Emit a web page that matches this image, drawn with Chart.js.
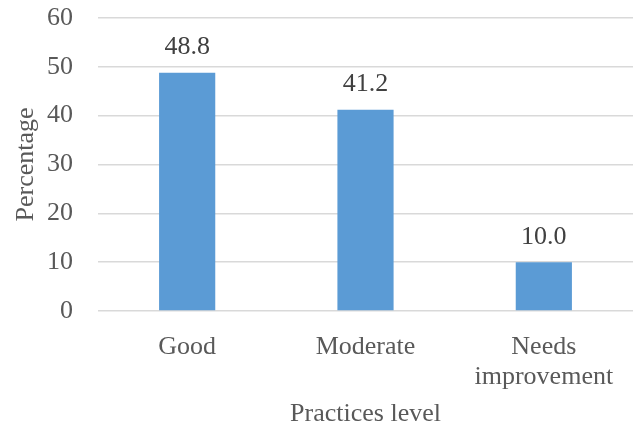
<!DOCTYPE html>
<html>
<head>
<meta charset="utf-8">
<script src="https://cdn.jsdelivr.net/npm/chart.js@4/dist/chart.umd.min.js"></script>
<style>
html,body{margin:0;padding:0;background:#fff;}
#wrap{width:639px;height:429px;}
</style>
</head>
<body>
<div id="wrap"><canvas id="c" width="639" height="429"></canvas></div>
<script>
const categories = [["Good"], ["Moderate"], ["Needs", "improvement"]];
const percentages = [48.8, 41.2, 10.0];
const yTicks = [0, 10, 20, 30, 40, 50, 60];

const FONT = "'Liberation Serif', 'Times New Roman', serif";
const TXT = '#595959';

const dataLabels = {
  id: 'dataLabels',
  afterDatasetsDraw(chart) {
    const ctx = chart.ctx;
    const meta = chart.getDatasetMeta(0);
    ctx.save();
    ctx.font = '26px ' + FONT;
    ctx.fillStyle = '#404040';
    ctx.textAlign = 'center';
    ctx.textBaseline = 'alphabetic';
    meta.data.forEach((bar, i) => {
      ctx.fillText(percentages[i].toFixed(1), bar.x, bar.y - 18.5);
    });
    ctx.restore();
  }
};

new Chart(document.getElementById('c'), {
  type: 'bar',
  data: {
    labels: categories,
    datasets: [{
      data: percentages,
      backgroundColor: '#5B9BD5',
      borderWidth: 0,
      categoryPercentage: 1,
      barPercentage: 0.315
    }]
  },
  options: {
    responsive: false,
    animation: false,
    devicePixelRatio: 1,
    layout: { padding: { top: 18, right: 6, bottom: 0, left: 0 } },
    plugins: { legend: { display: false }, tooltip: { enabled: false } },
    scales: {
      x: {
        grid: { display: false, drawTicks: false },
        border: { display: false },
        ticks: {
          color: TXT, padding: 21, maxRotation: 0, autoSkip: false,
          font: { family: FONT, size: 26, lineHeight: 1.155 }
        },
        title: {
          display: true, text: 'Practices level', color: TXT,
          font: { family: FONT, size: 26, lineHeight: 1.0 }, padding: { top: 0, bottom: 2 }
        },
        afterFit(scale) {
          scale.height = 118;
          scale.paddingLeft = 0; scale.paddingRight = 0;
        }
      },
      y: {
        min: 0, max: 60,
        afterBuildTicks(scale) { scale.ticks = yTicks.map(v => ({ value: v })); },
        grid: { color: '#D9D9D9', lineWidth: 1.5, drawTicks: false },
        border: { display: false },
        ticks: {
          color: TXT, padding: 25,
          font: { family: FONT, size: 26 }
        },
        title: {
          display: true, text: 'Percentage', color: TXT,
          font: { family: FONT, size: 26, lineHeight: 1.2 }, padding: { top: 11, bottom: 0 }
        },
        afterFit(scale) {
          scale.width = 98;
          scale.paddingTop = 0; scale.paddingBottom = 0;
        }
      }
    }
  },
  plugins: [dataLabels]
});
</script>
</body>
</html>
